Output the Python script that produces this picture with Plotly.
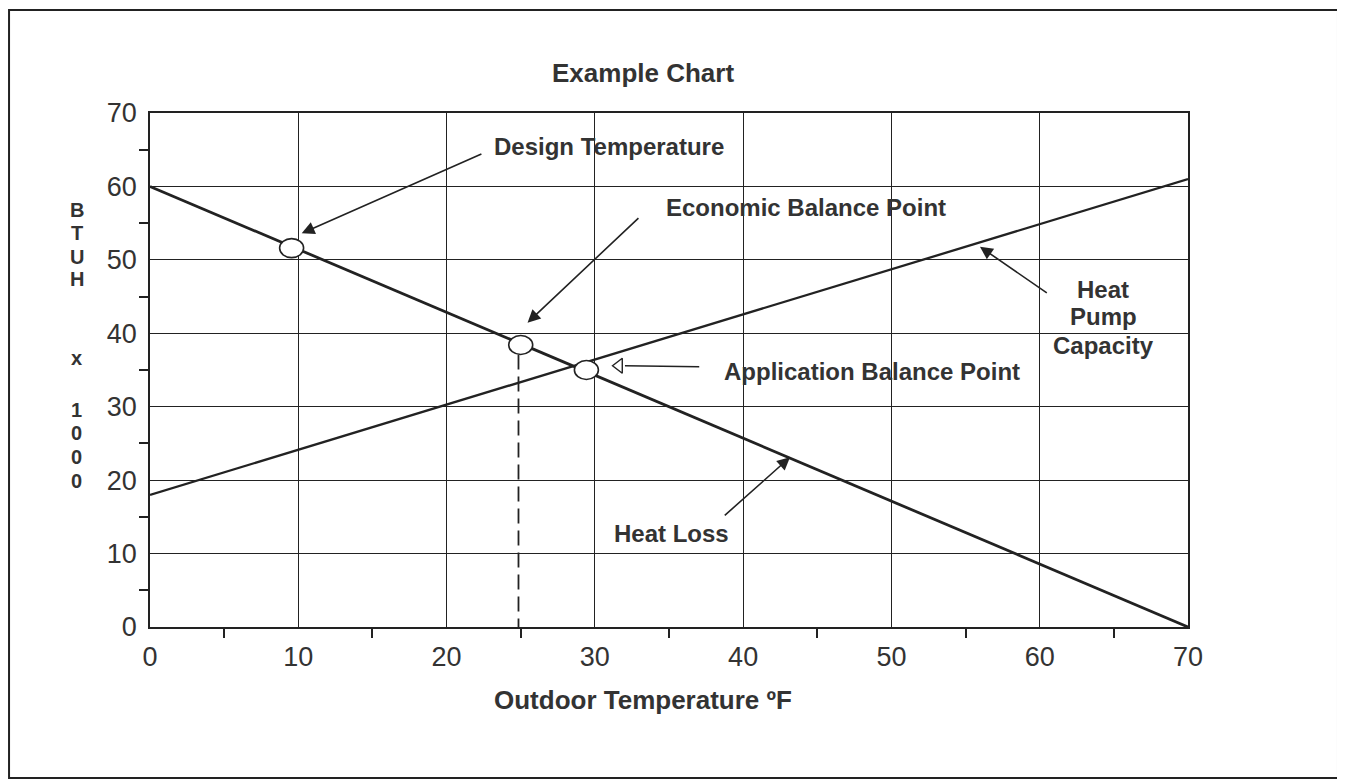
import plotly.graph_objects as go

# chart data
temp_x = [0, 70]
heat_loss = [60, 0]
heat_pump = [18, 61]

# marked points: design temp, economic balance, application balance
point_names = ["Design Temperature", "Economic Balance Point", "Application Balance Point"]
point_x = [9.55, 25.0, 29.43]
point_y = [51.6, 38.4, 35.0]

# dashed drop line from economic balance point
drop_x = [24.85, 24.85]
drop_y = [37.1, 0]

x_ticks = [0, 10, 20, 30, 40, 50, 60, 70]
y_ticks = [0, 10, 20, 30, 40, 50, 60, 70]
minor_ticks = [5, 15, 25, 35, 45, 55, 65]

INK = "#222222"
TXT = "#333333"
FONT = "Liberation Sans, Arial, sans-serif"

fig = go.Figure()

fig.add_trace(go.Scatter(x=temp_x, y=heat_loss, mode="lines", name="Heat Loss",
                         line=dict(color=INK, width=2.8), hoverinfo="skip"))
fig.add_trace(go.Scatter(x=temp_x, y=heat_pump, mode="lines", name="Heat Pump Capacity",
                         line=dict(color=INK, width=2.3), hoverinfo="skip"))
fig.add_trace(go.Scatter(x=drop_x, y=drop_y, mode="lines", name="drop",
                         line=dict(color=INK, width=1.8, dash="15px,7px"), hoverinfo="skip"))

# ellipses around the points (fixed pixel size, anchored on data)
for px_, py_ in zip(point_x, point_y):
    fig.add_shape(type="circle", xref="x", yref="y", xsizemode="pixel", ysizemode="pixel",
                  xanchor=px_, yanchor=py_, x0=-12, x1=12, y0=-9.5, y1=9.5,
                  fillcolor="white", line=dict(color=INK, width=1.6), layer="above")

# hollow arrow head for application balance point
fig.add_trace(go.Scatter(x=[31.63], y=[35.58], mode="markers", hoverinfo="skip",
                         marker=dict(symbol="triangle-left-open", size=13, color=INK,
                                     line=dict(width=1.4))))

# outer page frame (in paper coords)
fig.add_shape(type="rect", xref="paper", yref="paper",
              x0=-0.1358, x1=1.1445, y0=-0.2938, y1=1.2004,
              line=dict(color=INK, width=2))

lab = dict(family=FONT, size=24, color=TXT, weight="bold")
big = dict(family=FONT, size=26, color=TXT, weight="bold")

# arrows (head at x,y, tail at ax,ay)
arrows = [
    (10.23, 53.62, 22.45, 64.51),
    (25.46, 41.44, 33.04, 55.88),
    (43.16, 23.11, 38.66, 15.02),
    (55.97, 51.79, 60.58, 45.35),
]
for hx, hy, tx, ty in arrows:
    fig.add_annotation(x=hx, y=hy, ax=tx, ay=ty, xref="x", yref="y", axref="x", ayref="y",
                       text="", showarrow=True, arrowhead=2, arrowsize=1.6,
                       arrowwidth=1.6, arrowcolor=INK)
# line for hollow-head arrow
fig.add_annotation(x=32.03, y=35.57, ax=37.14, ay=35.45, xref="x", yref="y", axref="x", ayref="y",
                   text="", showarrow=True, arrowhead=0, arrowwidth=1.6, arrowcolor=INK)

labels = [
    ("Design Temperature", 23.05, 65.5, "left"),
    ("Economic Balance Point", 34.68, 57.16, "left"),
    ("Application Balance Point", 38.57, 34.73, "left"),
    ("Heat Loss", 31.13, 12.8, "left"),
    ("Heat", 64.27, 45.9, "center"),
    ("Pump", 64.27, 42.25, "center"),
    ("Capacity", 64.27, 38.4, "center"),
]
for txt, lx, ly, anc in labels:
    fig.add_annotation(x=lx, y=ly, xref="x", yref="y", text=txt, showarrow=False,
                       xanchor=anc, yanchor="middle", font=lab)

fig.add_annotation(x=0.4745, y=1.0778, xref="paper", yref="paper", text="Example Chart",
                   showarrow=False, font=big, xanchor="center", yanchor="middle")
fig.add_annotation(x=0.475, y=-0.142, xref="paper", yref="paper",
                   text="Outdoor Temperature ºF", showarrow=False, font=big,
                   xanchor="center", yanchor="middle")

# stacked vertical y-axis label, one letter per row
ylab_chars = ["B", "T", "U", "H", "x", "1", "0", "0", "0"]
ylab_rows = [210, 233, 257, 279, 358, 410, 433, 457, 481]
for ch, row in zip(ylab_chars, ylab_rows):
    fig.add_annotation(x=(76.5 - 150) / 1038, y=(627 - row) / 514, xref="paper", yref="paper",
                       text=ch, showarrow=False, xanchor="center", yanchor="middle",
                       font=dict(family=FONT, size=20, color=TXT, weight="bold"))

axis_common = dict(
    range=[0, 70], showgrid=True, gridcolor=INK, gridwidth=1.3,
    showline=True, linecolor=INK, linewidth=1.8, mirror=True,
    ticks="", zeroline=False,
    tickfont=dict(family=FONT, size=27, color=TXT),
    minor=dict(tickmode="array", tickvals=minor_ticks, ticks="outside", ticklen=9,
               tickwidth=1.5, tickcolor=INK, showgrid=False),
)
fig.update_xaxes(**axis_common, tickvals=x_ticks, ticklabelstandoff=5)
fig.update_yaxes(**axis_common, tickvals=y_ticks, ticklabelstandoff=6)

fig.update_layout(
    width=1337, height=773,
    margin=dict(l=142, r=157, t=105, b=154),
    paper_bgcolor="white", plot_bgcolor="white",
    showlegend=False,
    font=dict(family=FONT, color=TXT),
)

fig.write_html("out.html")
